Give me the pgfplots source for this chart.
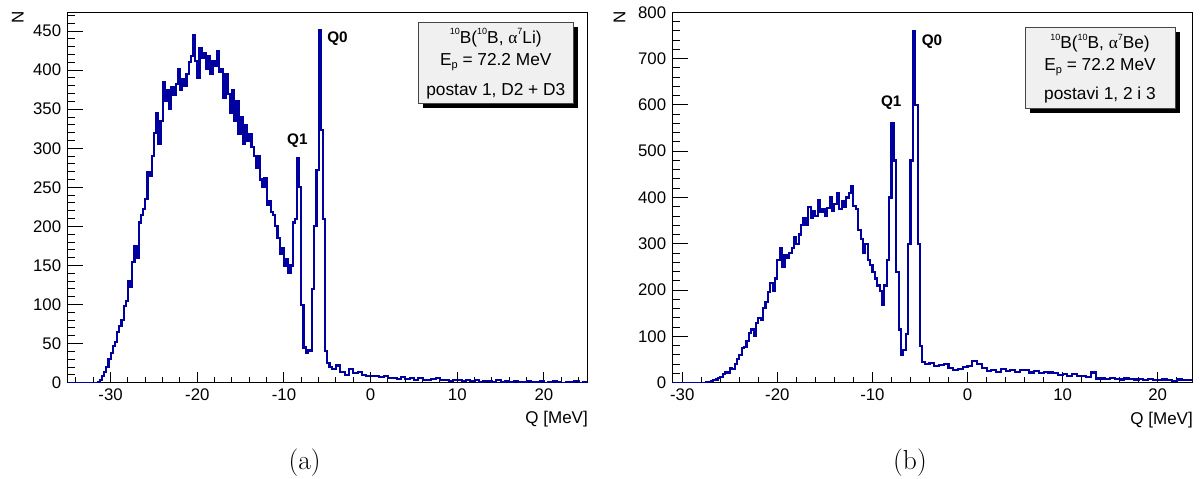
\documentclass[border=0pt]{standalone}
\usepackage{fontspec}
\usepackage{pgfplots}
\pgfplotsset{compat=1.18}
\newfontfamily\hv{Liberation Sans}
\newfontfamily\sym{Liberation Serif}
\definecolor{hblue}{RGB}{0,0,160}
\definecolor{boxfill}{RGB}{240,240,240}
\definecolor{boxedge}{RGB}{70,70,70}
\newcommand\sps[1]{\raisebox{8.5pt}{\fontsize{9}{9}\selectfont #1}}
\newcommand\sbs[1]{\raisebox{-3pt}{\fontsize{11}{11}\selectfont #1}}
\pgfplotsset{rootax/.style={
  scale only axis, width=520pt, height=370.4pt,
  axis line style={black, line width=1pt},
  tick align=inside, tick pos=left, ymin=0,
  /pgf/number format/assume math mode=true,
  tick label style={font=\hv\fontsize{16.8}{18}\selectfont, inner sep=0pt},
  xticklabel style={yshift=-5.6pt},
  yticklabel style={xshift=-6pt},
  major tick length=11pt, minor tick length=5.5pt,
  xtick style={black, line width=1pt},
  ytick style={black, line width=1pt, /pgfplots/major tick length=15.6pt, /pgfplots/minor tick length=7.8pt},
  xtick={-30,-20,...,20}, xticklabels={-30,-20,-10,0,10,20},
  scaled y ticks=false,
}}
\begin{document}
\begin{tikzpicture}[x=1pt,y=1pt]
\path[use as bounding box] (0,0) rectangle (1200,479);
% ---------------- panel (a)
\begin{axis}[rootax, at={(67.3pt,96.3pt)}, anchor=south west,
  xmin=-35, xmax=25, ymax=474,
  ytick={0,50,...,450}, minor ytick={10,20,...,470},
  minor xtick={-34,-32,...,24}]
\addplot[const plot mark left, hblue, line width=2.1pt] table {
-35 0
-31.5 1
-31.25 3
-31 8
-30.75 14
-30.5 20
-30.25 30
-30 38
-29.75 47
-29.5 52
-29.25 65
-29 72
-28.75 80
-28.5 98
-28.25 105
-28 130
-27.75 122
-27.5 155
-27.25 175
-27 160
-26.75 205
-26.5 215
-26.25 222
-26 235
-25.75 270
-25.5 265
-25.25 290
-25 320
-24.75 345
-24.5 305
-24.25 335
-24 385
-23.75 360
-23.5 375
-23.25 350
-23 378
-22.75 368
-22.5 382
-22.25 402
-22 375
-21.75 388
-21.5 380
-21.25 395
-21 410
-20.75 418
-20.5 445
-20.25 412
-20 390
-19.75 428
-19.5 415
-19.25 422
-19 402
-18.75 418
-18.5 395
-18.25 412
-18 405
-17.75 425
-17.5 398
-17.25 402
-17 365
-16.75 395
-16.5 370
-16.25 345
-16 375
-15.75 335
-15.5 360
-15.25 318
-15 340
-14.75 305
-14.5 330
-14.25 310
-14 318
-13.75 302
-13.5 290
-13.25 275
-13 290
-12.75 260
-12.5 250
-12.25 262
-12 228
-11.75 232
-11.5 218
-11.25 215
-11 200
-10.75 185
-10.5 165
-10.25 172
-10 150
-9.75 158
-9.5 140
-9.25 150
-9 205
-8.75 210
-8.5 287
-8.25 250
-8 100
-7.75 45
-7.5 38
-7.25 42
-7 40
-6.75 120
-6.5 200
-6.25 272
-6 451
-5.75 323
-5.5 210
-5.25 40
-5 25
-4.75 20
-4.5 18
-4 22
-3.5 14
-3 10
-2.5 18
-2 12
-1.5 14
-1 10
-0.5 9
0 8
0.5 9
1 7
1.5 8
2 6
2.5 6
3 5
3.5 7
4 5
4.5 6
5 4
5.5 6
6 4
6.5 3
7 5
7.5 6
8 3
8.5 4
9 2
9.5 3
10 3
10.5 2
11 3
11.5 2
12 3
12.5 1
13 2
13.5 2
14 1
14.5 3
15 1
15.5 2
16 1
16.5 2
17 1
17.5 1
18 2
18.5 1
19 1
19.5 2
20 0
20.5 1
21 2
21.5 1
22 0
22.5 1
23 1
23.5 2
24 0
24.5 1
25 1
};
\end{axis}
% ---------------- panel (b)
\begin{axis}[rootax, at={(672.3pt,96.3pt)}, anchor=south west,
  xmin=-31.05, xmax=23.64, ymax=800,
  ytick={0,100,...,800}, minor ytick={20,40,...,780},
  minor xtick={-30,-28,...,22}]
\addplot[const plot mark left, hblue, line width=2.1pt] table {
-31 0
-27.5 1
-27.25 2
-27 3
-26.75 5
-26.5 7
-26.25 10
-26 12
-25.75 18
-25.5 22
-25.25 20
-25 32
-24.75 30
-24.5 40
-24.25 52
-24 60
-23.75 75
-23.5 78
-23.25 90
-23 108
-22.75 115
-22.5 102
-22.25 128
-22 140
-21.75 135
-21.5 162
-21.25 175
-21 195
-20.75 215
-20.5 198
-20.25 225
-20 265
-19.75 290
-19.5 250
-19.25 275
-19 270
-18.75 280
-18.5 290
-18.25 315
-18 300
-17.75 320
-17.5 340
-17.25 355
-17 340
-16.75 380
-16.5 355
-16.25 370
-16 360
-15.75 395
-15.5 368
-15.25 375
-15 360
-14.75 378
-14.5 400
-14.25 370
-14 385
-13.75 410
-13.5 375
-13.25 392
-13 380
-12.75 400
-12.5 410
-12.25 425
-12 382
-11.75 375
-11.5 330
-11.25 310
-11 280
-10.75 300
-10.5 265
-10.25 255
-10 240
-9.75 225
-9.5 210
-9.25 198
-9 168
-8.75 210
-8.5 265
-8.25 400
-8 560
-7.75 480
-7.5 240
-7.25 115
-7 60
-6.75 70
-6.5 105
-6.25 300
-6 480
-5.75 760
-5.5 600
-5.25 300
-5 80
-4.75 45
-4.5 40
-4 42
-3.5 36
-3 38
-2.5 40
-2 32
-1.5 28
-1 30
-0.5 34
0 36
0.5 46
1 40
1.5 32
2 26
2.5 28
3 24
3.5 30
4 26
4.5 28
5 24
5.5 27
6 28
6.5 22
7 25
7.5 20
8 24
8.5 22
9 20
9.5 17
10 19
10.5 15
11 18
11.5 14
12 14
12.5 13
13 22
13.5 9
14 9
14.5 8
15 10
15.5 8
16 7
16.5 9
17 8
17.5 7
18 8
18.5 6
19 8
19.5 6
20 5
20.5 7
21 6
21.5 4
22 7
22.5 5
23 6
23.64 6
};
\end{axis}
% ---------------- annotations (a)
\node[rotate=90, font=\hv\fontsize{17}{18}\selectfont, inner sep=0pt] at (17.7,461.5) {N};
\node[anchor=east, font=\hv\fontsize{17}{18}\selectfont, inner sep=0pt] at (588,59.8) {Q [MeV]};
\node[font=\hv\bfseries\fontsize{15.3}{16}\selectfont, inner sep=0pt] at (337.5,440.2) {Q0};
\node[font=\hv\bfseries\fontsize{15.3}{16}\selectfont, inner sep=0pt] at (297.3,338.7) {Q1};
\fill[black] (422.8,371) rectangle (577.8,452);
\filldraw[fill=boxfill, draw=boxedge, line width=1pt] (418.3,375) rectangle (573.3,456.3);
\begin{scope}[every node/.style={font=\hv\fontsize{17.3}{20}\selectfont, inner sep=0pt, anchor=base}]
\node at (495.8,435.7) {\sps{10}B(\sps{10}B, {\sym α}\sps{7}Li)};
\node at (495.8,413) {E\sbs{p} = 72.2 MeV};
\node at (495.8,383.3) {postav 1, D2 + D3};
\end{scope}
% ---------------- annotations (b)
\node[rotate=90, font=\hv\fontsize{17}{18}\selectfont, inner sep=0pt] at (619.5,461.5) {N};
\node[anchor=east, font=\hv\fontsize{17}{18}\selectfont, inner sep=0pt] at (1193,58.8) {Q [MeV]};
\node[font=\hv\bfseries\fontsize{15.3}{16}\selectfont, inner sep=0pt] at (932,437.7) {Q0};
\node[font=\hv\bfseries\fontsize{15.3}{16}\selectfont, inner sep=0pt] at (891.2,376.2) {Q1};
\fill[black] (1029.5,365.7) rectangle (1180,447);
\filldraw[fill=boxfill, draw=boxedge, line width=1pt] (1025,370) rectangle (1175,451.3);
\begin{scope}[every node/.style={font=\hv\fontsize{17.3}{20}\selectfont, inner sep=0pt, anchor=base}]
\node at (1100,430.2) {\sps{10}B(\sps{10}B, {\sym α}\sps{7}Be)};
\node at (1100,408) {E\sbs{p} = 72.2 MeV};
\node at (1100,379) {postavi 1, 2 i 3};
\end{scope}
% ---------------- captions
\node[font=\fontsize{27.5}{30}\selectfont, inner sep=0pt] at (304.6,16.3) {(a)};
\node[font=\fontsize{27.5}{30}\selectfont, inner sep=0pt] at (910,16.3) {(b)};
\end{tikzpicture}
\end{document}
